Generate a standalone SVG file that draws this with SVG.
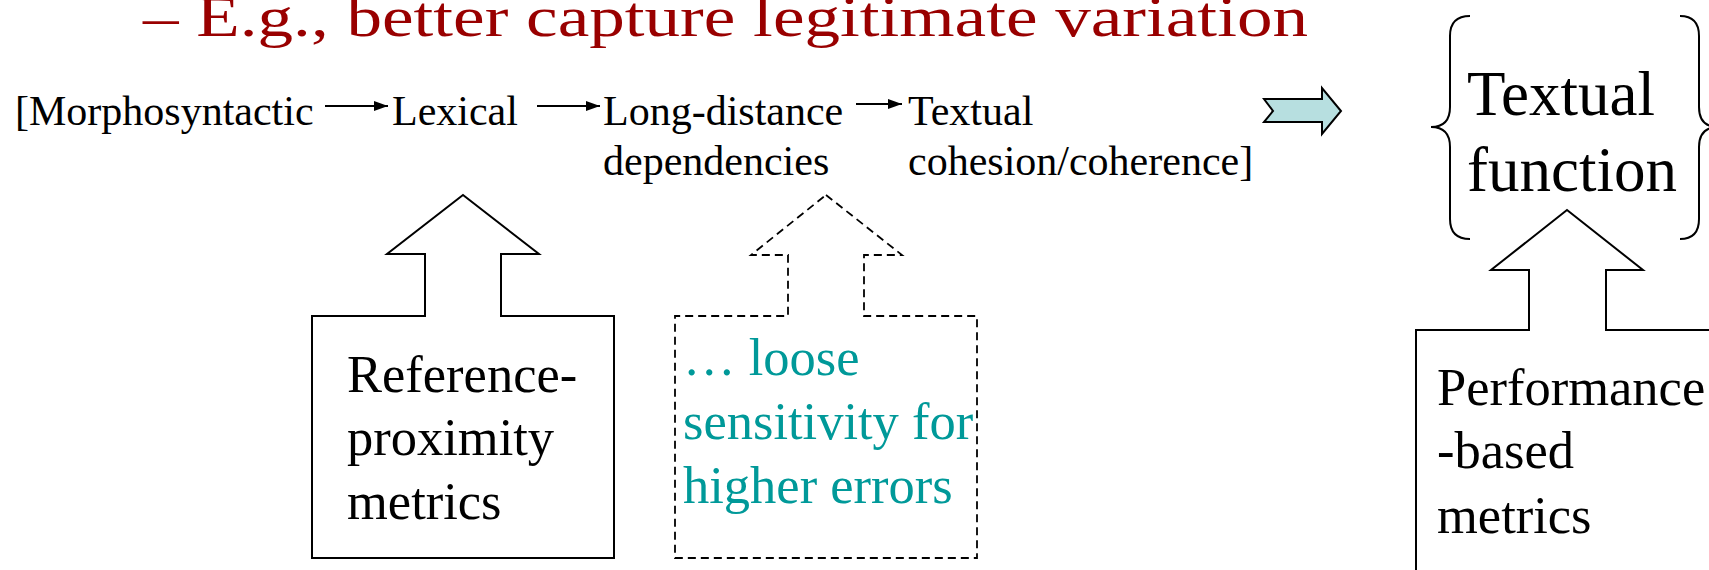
<svg xmlns="http://www.w3.org/2000/svg" width="1709" height="570" viewBox="0 0 1709 570">
  <defs>
    <style>
      .t { font-family: "Liberation Serif", "Times New Roman", serif; fill: #000; }
      .row { font-size: 42px; }
      .big { font-size: 52.5px; }
      .teal { fill: #009999; }
      .shape { fill: #fff; stroke: #000; stroke-width: 2; stroke-linejoin: miter; }
      .dash { fill: none; stroke: #000; stroke-width: 1.8; stroke-dasharray: 8 5; }
      .conn { stroke: #000; stroke-width: 2; fill: none; }
    </style>
    <marker id="ah2" viewBox="0 0 14 10" refX="14" refY="5" markerWidth="14" markerHeight="10" markerUnits="userSpaceOnUse" orient="auto">
      <path d="M0,0 L14,5 L0,10 z" fill="#000"/>
    </marker>
  </defs>

  <g id="title">
    <text class="t" transform="translate(143,36) scale(1,0.88)" font-size="66" style="fill:#990000" textLength="1165" lengthAdjust="spacingAndGlyphs">– E.g., better capture legitimate variation</text>
  </g>

  <g id="n-morpho"><text class="t row" x="15" y="125">[Morphosyntactic</text></g>
  <g id="n-lexical"><text class="t row" x="392" y="125">Lexical</text></g>
  <g id="n-longdist"><text class="t row" x="603" y="125">Long-distance</text><text class="t row" x="603" y="175">dependencies</text></g>
  <g id="n-textual"><text class="t row" x="908" y="125">Textual</text><text class="t row" x="908" y="175">cohesion/coherence]</text></g>

  <g id="connectors">
    <line class="conn" x1="325" y1="106" x2="388" y2="106" marker-end="url(#ah2)"/>
    <line class="conn" x1="537" y1="106" x2="600" y2="106" marker-end="url(#ah2)"/>
    <line class="conn" x1="856" y1="104" x2="902" y2="104" marker-end="url(#ah2)"/>
  </g>

  <g id="n-implies">
    <polygon points="1264,99 1322,99 1322,88 1341,111 1322,134 1322,122 1264,122 1273,111" fill="#b7dfe0" stroke="#000" stroke-width="2"/>
  </g>

  <g id="n-textfunc">
    <path d="M1470,16 Q1450,16 1450,36 L1450,107 Q1450,127 1431,127 Q1450,127 1450,147 L1450,219 Q1450,239 1470,239" fill="none" stroke="#000" stroke-width="2"/>
    <path d="M1680,16 Q1699,16 1699,36 L1699,107 Q1699,127 1718,127 Q1699,127 1699,147 L1699,219 Q1699,239 1680,239" fill="none" stroke="#000" stroke-width="2"/>
    <text class="t" font-size="63" x="1467" y="115">Textual</text>
    <text class="t" font-size="63" x="1467" y="191">function</text>
  </g>

  <g id="n-refprox">
    <polygon class="shape" points="463,195 539,254 501,254 501,316 614,316 614,558 312,558 312,316 425,316 425,254 387,254"/>
    <text class="t big" x="347" y="392">Reference-</text>
    <text class="t big" x="347" y="455">proximity</text>
    <text class="t big" x="347" y="519">metrics</text>
  </g>

  <g id="n-loose">
    <polygon class="dash" points="826,195 902,255 864,255 864,316 977,316 977,558 675,558 675,316 788,316 788,255 751,255"/>
    <text class="t big teal" x="683" y="375">… loose</text>
    <text class="t big teal" x="683" y="439">sensitivity for</text>
    <text class="t big teal" x="683" y="503">higher errors</text>
  </g>

  <g id="n-perf">
    <polygon class="shape" points="1567,210 1643,270 1606,270 1606,330 1720,330 1720,580 1416,580 1416,330 1529,330 1529,270 1491,270"/>
    <text class="t big" x="1437" y="405">Performance</text>
    <text class="t big" x="1437" y="468">-based</text>
    <text class="t big" x="1437" y="533">metrics</text>
  </g>
</svg>
